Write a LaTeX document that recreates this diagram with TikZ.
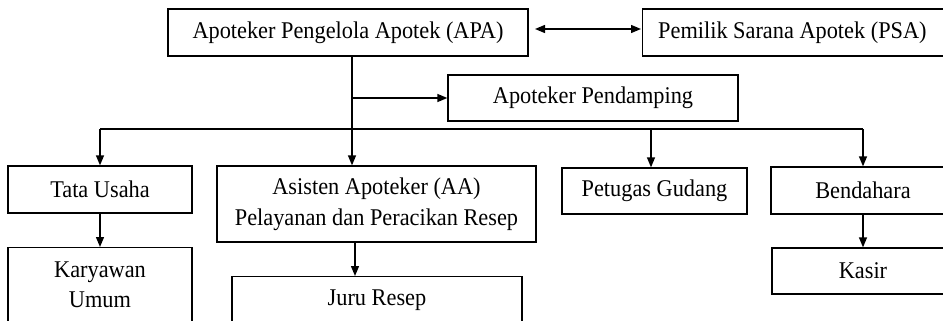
\documentclass[tikz,border=0pt]{standalone}
\usepackage{fontspec}
\setmainfont{Liberation Serif}[FakeStretch=0.93]
\usetikzlibrary{arrows.meta}
\tikzset{
  box/.style={draw, line width=1.3pt, inner sep=0pt, font=\fontsize{24}{31}\selectfont, align=center},
  txt/.style={inner sep=0pt, font=\fontsize{24}{30}\selectfont, align=center},
  conn/.style={line width=1.3pt, -{Triangle[length=10pt,width=8pt]}},
  dconn/.style={line width=1.3pt, {Triangle[length=10pt,width=8pt]}-{Triangle[length=10pt,width=8pt]}}
}
\begin{document}
\begin{tikzpicture}[x=1pt,y=-1pt]
\useasboundingbox (0,0) rectangle (943,321);
\clip (0,0) rectangle (943,321);
% boxes
\node[box, minimum width=360pt, minimum height=47pt] (apa) at (348,32.5) {Apoteker Pengelola Apotek (APA)};
\node[box, anchor=west, minimum width=330pt, minimum height=47pt] (psa) at (642,32.5) {};
\node[txt, anchor=west] (psat) at (658,32.5) {Pemilik Sarana Apotek (PSA)};
\node[box, minimum width=290pt, minimum height=46pt] (pend) at (593,98) {Apoteker Pendamping};
\node[box, minimum width=184pt, minimum height=47pt] (tata) at (100,189.5) {Tata Usaha};
\node[box, minimum width=319pt, minimum height=76pt] (aa) at (376.5,204) {Asisten Apoteker (AA)\\Pelayanan dan Peracikan Resep};
\node[box, minimum width=185pt, minimum height=46pt] (peg) at (654.5,191) {Petugas Gudang};
\node[box, minimum width=184pt, minimum height=47pt] (bend) at (863,190.5) {Bendahara};
\node[box, minimum width=182pt, minimum height=46pt] (kasir) at (863,271) {Kasir};
\node[box, anchor=north, minimum width=184pt, minimum height=90pt] (kary) at (100,247) {};
\node[txt] (karyt) at (100,284.5) {Karyawan\\Umum};
\node[box, anchor=north, minimum width=290pt, minimum height=80pt] (juru) at (377,276) {};
\node[txt] (jurut) at (377,300) {Juru Resep};
% helper coordinates
\coordinate (apab) at (352,56);
\coordinate (tee) at (352,98);
\coordinate (bus) at (352,129);
\coordinate (busL) at (100,129);
\coordinate (busPG) at (651,129);
\coordinate (busR) at (863,129);
\coordinate (dA) at (535,29);
\coordinate (dB) at (641,29);
% connectors
\draw[dconn] (dA) -- (dB);
\draw[line width=1.3pt] (apab) -- (bus);
\draw[conn] (tee) -- (pend.west);
\draw[line width=1.3pt] (busL) -- (busR);
\draw[conn] (busL) -- (tata.north);
\draw[conn] (bus) -- (aa.north -| bus);
\draw[conn] (busPG) -- (peg.north -| busPG);
\draw[conn] (busR) -- (bend.north);
\draw[conn] (tata.south) -- (kary.north);
\draw[conn] ([xshift=-21.5pt]aa.south) -- ([xshift=-22pt]juru.north);
\draw[conn] (bend.south) -- (kasir.north);
\end{tikzpicture}
\end{document}
